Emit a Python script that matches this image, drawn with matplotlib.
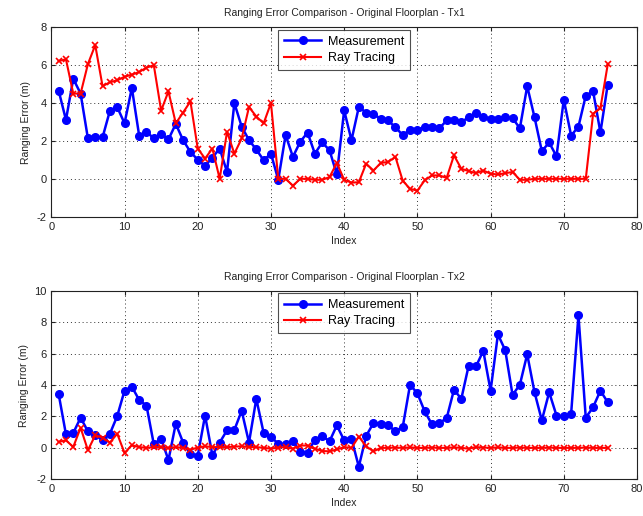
import numpy as np
import matplotlib
matplotlib.use("Agg")
import matplotlib.pyplot as plt

plt.rcParams['font.family'] = ['Liberation Sans', 'DejaVu Sans']
plt.rcParams['axes.unicode_minus'] = False

index = np.arange(1, 77)

tx1_measurement = [
    4.66, 3.11, 5.28, 4.50, 2.13, 2.19, 2.19, 3.59, 3.79, 2.93,
    4.80, 2.28, 2.49, 2.13, 2.36, 2.08, 2.90, 2.04, 1.42, 1.01,
    0.69, 1.12, 1.60, 0.36, 4.00, 2.76, 2.04, 1.55, 0.98, 1.33,
    -0.05, 2.31, 1.16, 1.96, 2.44, 1.33, 1.92, 1.51, 0.23, 3.61,
    2.04, 3.79, 3.50, 3.43, 3.16, 3.08, 2.72, 2.31, 2.58, 2.58,
    2.74, 2.72, 2.67, 3.08, 3.11, 2.99, 3.25, 3.47, 3.25, 3.18,
    3.18, 3.25, 3.20, 2.67, 4.89, 3.25, 1.46, 1.92, 1.19, 4.18,
    2.28, 2.76, 4.39, 4.62, 2.45, 4.98,
]
tx1_ray_tracing = [
    6.22, 6.31, 4.50, 4.50, 6.06, 7.06, 4.89, 5.10, 5.20, 5.39,
    5.50, 5.64, 5.87, 6.00, 3.60, 4.62, 2.93, 3.50, 4.09, 1.60,
    1.07, 1.60, 0.00, 2.49, 1.33, 2.13, 3.79, 3.29, 2.93, 4.00,
    0.00, 0.00, -0.36, 0.00, 0.00, -0.05, -0.05, 0.09, 0.84, -0.05,
    -0.20, -0.18, 0.80, 0.44, 0.84, 0.89, 1.16, -0.10, -0.53, -0.62,
    -0.08, 0.18, 0.18, 0.05, 1.24, 0.53, 0.41, 0.30, 0.44, 0.27,
    0.23, 0.30, 0.36, -0.05, -0.05, 0.00, 0.00, 0.00, 0.00, 0.00,
    0.00, 0.00, 0.00, 3.43, 3.73, 6.04,
]

tx2_measurement = [
    3.43, 0.86, 0.95, 1.92, 1.05, 0.80, 0.53, 0.90, 2.02, 3.64,
    3.89, 3.05, 2.69, 0.23, 0.59, -0.78, 1.54, 0.34, -0.40, -0.50,
    2.06, -0.46, 0.34, 1.12, 1.14, 2.36, 0.34, 3.12, 0.95, 0.69,
    0.27, 0.23, 0.42, -0.25, -0.32, 0.53, 0.76, 0.42, 1.43, 0.48,
    0.59, -1.20, 0.76, 1.58, 1.54, 1.43, 1.07, 1.33, 4.02, 3.47,
    2.32, 1.49, 1.58, 1.89, 3.70, 3.12, 5.22, 5.18, 6.17, 3.64,
    7.22, 6.21, 3.37, 4.02, 5.96, 3.54, 1.75, 3.54, 2.06, 2.00,
    2.17, 8.44, 1.92, 2.59, 3.64, 2.90,
]
tx2_ray_tracing = [
    0.38, 0.48, 0.06, 1.28, -0.15, 0.80, 0.65, 0.34, 0.90, -0.32,
    0.17, 0.05, 0.00, 0.05, 0.05, 0.00, 0.05, 0.00, -0.12, 0.02,
    0.10, 0.05, 0.05, 0.05, 0.08, 0.10, 0.05, 0.05, 0.00, -0.05,
    0.02, 0.05, -0.05, 0.15, 0.15, -0.05, -0.20, -0.22, -0.10, 0.05,
    0.00, 0.72, 0.10, -0.22, 0.00, 0.00, 0.02, 0.00, 0.03, 0.00,
    0.00, 0.02, 0.00, 0.00, 0.03, 0.00, -0.05, 0.05, 0.02, 0.00,
    0.03, 0.00, 0.00, 0.02, 0.00, 0.00, 0.00, 0.02, 0.00, 0.00,
    0.00, 0.00, 0.02, 0.00, 0.00, 0.00,
]

titles = ["Ranging Error Comparison - Original Floorplan - Tx1",
          "Ranging Error Comparison - Original Floorplan - Tx2"]
y_ranges = [(-2, 8), (-2, 10)]
y_ticks = [np.arange(-2, 9, 2), np.arange(-2, 11, 2)]
x_ticks = np.arange(0, 81, 10)

fig = plt.figure(figsize=(6.43, 5.16), dpi=100)
ax_top = fig.add_axes([0.0798, 0.5800, 0.9109, 0.3671])
ax_bot = fig.add_axes([0.0798, 0.0711, 0.9109, 0.3655])

series = [(tx1_measurement, tx1_ray_tracing), (tx2_measurement, tx2_ray_tracing)]

for ax, (meas, ray), title, yr, yt in zip([ax_top, ax_bot], series, titles, y_ranges, y_ticks):
    ax.plot(index, meas, color=(0, 0, 1), lw=1.8, marker='o', ms=5.5,
            mfc=(0, 0, 1), mec=(0, 0, 1), label='Measurement', zorder=3)
    ax.plot(index, ray, color=(1, 0, 0), lw=1.5, marker='x', ms=5,
            mew=1.2, label='Ray Tracing', zorder=4)
    ax.set_xlim(0, 80)
    ax.set_ylim(*yr)
    ax.set_xticks(x_ticks)
    ax.set_yticks(yt)
    ax.grid(True, linestyle=(0, (1, 3)), color='#333333', lw=0.7)
    ax.tick_params(direction='in', length=3, width=0.8, labelsize=8,
                   top=True, right=True, colors='#222222')
    for sp in ax.spines.values():
        sp.set_linewidth(0.8)
        sp.set_color('#222222')
    ax.set_title(title, fontsize=7.5, pad=8, color='#222222')
    ax.set_xlabel('Index', fontsize=7.5, labelpad=3, color='#222222')
    ax.set_ylabel('Ranging Error (m)', fontsize=7.5, labelpad=4, color='#222222')
    leg = ax.legend(loc='upper center', bbox_to_anchor=(0.5, 0.986),
                    borderaxespad=0, fontsize=9, frameon=True, fancybox=False,
                    edgecolor='#222222', handlelength=3.0, borderpad=0.45,
                    labelspacing=0.35, handletextpad=0.55)
    leg.get_frame().set_linewidth(0.8)

fig.savefig('out.png', dpi=100)
